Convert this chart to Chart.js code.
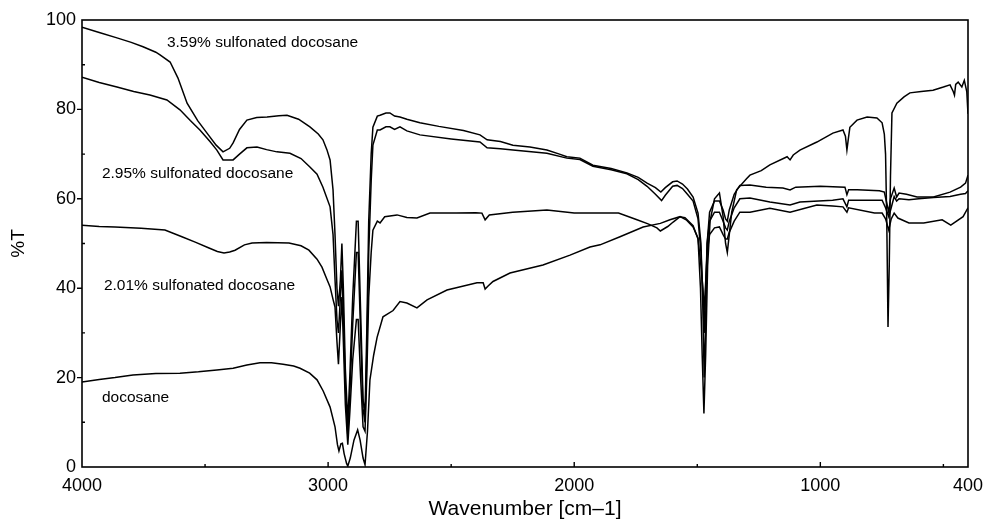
<!DOCTYPE html>
<html><head><meta charset="utf-8">
<script src="https://cdn.jsdelivr.net/npm/chart.js@4.4.1/dist/chart.umd.min.js"></script>
<style>html,body{margin:0;padding:0;background:#fff}#wrap{width:984px;height:522px;position:relative}</style>
</head><body><div id="wrap"><canvas id="c"></canvas></div>
<script>
// ---- data (wavenumber cm-1, %T) ----
const wA = [4000,3930,3858,3800,3752,3700,3683,3642,3610,3573,3530,3492,3455,3427,3400,3386,3360,3330,3290,3248,3200,3167,3120,3074,3040,3021,3005,2992,2980,2972,2964,2958,2950,2944,2938,2930,2920,2912,2900,2885,2878,2868,2858,2850,2843,2835,2825,2818,2800,2789,2765,2749,2730,2708,2680,2627,2550,2450,2383,2354,2300,2249,2180,2111,2060,2030,1977,1924,1850,1786,1740,1704,1670,1648,1630,1600,1582,1560,1540,1517,1497,1485,1477,1472,1467,1460,1450,1430,1410,1395,1385,1378,1370,1350,1327,1286,1220,1152,1123,1100,1000,900,892,885,850,760,740,730,722,715,700,690,680,650,607,540,473,430,410,400];
const tA = [98.4,97.2,96.0,95.0,94.0,92.8,92.2,90.6,87,81.4,77.5,74.7,72,70.5,71.3,72.5,75.5,77.6,78.2,78.3,78.6,78.7,77.8,76.1,74.5,73.2,71,68.7,62,52,40,36,42,50,40,22,10,20,38,55,55,35,15,12,30,55,70,76,78.5,78.7,79.2,79.2,78.5,78.3,77.8,77,76.2,75.3,74.3,73.2,72.8,72,71.6,70.9,70,69.4,69.1,67.5,66.8,65.8,64.8,63.5,62.5,61.5,62.5,63.8,64,63.3,62.2,60.4,56.8,50,35,20,30,50,57,59.5,59.5,57.5,55.5,55,57.5,61,63,63.1,62.6,62.4,62,62.6,62.8,62.6,60.9,62,62,61.8,61.5,59,57,60,62.4,60.4,61.3,61,60.4,60.4,61.5,62.6,63.5,65.3];

const wB = [4000,3930,3858,3790,3724,3655,3602,3560,3521,3480,3452,3427,3386,3360,3330,3289,3250,3208,3155,3110,3074,3045,3021,2992,2980,2972,2964,2958,2950,2944,2938,2930,2920,2912,2900,2885,2878,2868,2858,2850,2843,2835,2825,2818,2800,2789,2765,2749,2730,2708,2680,2627,2500,2383,2354,2300,2249,2111,2030,1977,1924,1850,1786,1740,1704,1670,1645,1630,1600,1582,1560,1540,1517,1497,1485,1477,1472,1467,1460,1450,1430,1410,1395,1385,1378,1370,1350,1327,1286,1205,1123,1083,950,908,892,885,780,749,735,722,712,700,690,680,640,600,540,473,430,410,400];
const tB = [87.2,86.0,85,84,83.2,82.1,79.9,77.5,75.4,72.8,70.9,68.7,68.7,70,71.4,71.6,71,70.5,70.2,69,67.1,65.5,62.6,58.2,52,42,33,30,38,44,34,18,7,16,32,48,48,30,13,10,25,48,64,72,75.4,75.4,76.1,76.1,75.5,76.1,75.2,74.3,73.4,72.7,71.4,71.2,70.9,70.2,69.1,68.8,67.3,66.5,65.6,64.3,62.8,61,59.6,60.8,62.8,63,62.3,61,59.5,55.5,48,38,30,38,50,55,57,57,55,53.5,53,55,58,60,60.2,59.3,58.6,59.3,59.7,60,58.2,59.7,59.7,59.7,58,56,58,60.5,59.5,60,59.8,60,60.3,60.5,61,61.2,61.8];

const wC = [4000,3930,3866,3760,3663,3594,3540,3484,3450,3423,3400,3378,3340,3309,3250,3159,3110,3078,3045,3025,3005,2992,2980,2972,2964,2958,2950,2944,2938,2930,2920,2912,2900,2885,2878,2868,2858,2850,2843,2835,2825,2818,2800,2789,2770,2720,2680,2639,2586,2480,2400,2375,2362,2345,2250,2111,2000,1900,1820,1745,1700,1664,1650,1620,1598,1570,1550,1517,1497,1485,1477,1472,1467,1460,1450,1430,1410,1395,1385,1378,1370,1350,1327,1286,1205,1123,1014,950,908,892,885,780,749,735,722,712,700,685,640,580,505,470,420,400];
const tC = [54.1,53.8,53.7,53.4,53,51.5,50.3,49,48.2,47.9,48.1,48.5,49.7,50.1,50.2,50.1,49.5,48.5,46.5,44.7,42,40.3,37.5,35.8,28,23,32,38,28,14,5,12,24,33,33,20,9,8,20,38,48,53,55,54.6,56,56.4,55.8,55.7,56.8,56.8,56.9,56.8,55.3,56.4,57,57.5,56.8,56.8,56.8,55.3,54.4,53.5,52.8,53.8,54.8,56,55.8,54,51,45,40,35,40,48,52,53.5,53.7,52,51,51,52.5,55,57,57,57.9,57,58.6,58.4,58.2,57,58,56.8,56.8,55.5,53,55.5,56.8,55.7,54.6,54.6,55.3,54.1,56,58];

const wD = [4000,3930,3866,3793,3700,3602,3527,3452,3386,3330,3277,3230,3183,3140,3114,3075,3045,3020,2992,2972,2962,2956,2948,2942,2935,2925,2920,2910,2895,2880,2870,2858,2850,2840,2830,2815,2801,2777,2736,2708,2680,2639,2598,2517,2395,2370,2362,2350,2330,2261,2127,2017,1936,1895,1814,1720,1650,1611,1570,1545,1517,1497,1487,1480,1473,1466,1458,1448,1430,1410,1395,1385,1378,1370,1360,1340,1300,1286,1240,1205,1135,1123,1110,1083,1014,949,908,898,892,886,880,851,810,770,749,740,735,730,725,720,715,709,689,660,636,590,542,500,473,460,455,450,440,425,415,405,400];
const tD = [19,19.6,20,20.6,20.9,21,21.3,21.7,22.1,22.8,23.3,23.3,23,22.6,22.1,21,19.5,17,13.4,9,5,3.6,5.2,5.3,3,0.8,0.2,2,6,8.3,6,2,0.5,8,19.5,25,29,33.6,35,37,36.7,35.6,37.4,39.6,41.2,41.2,39.8,40.5,41.5,43.4,45.2,47.4,49.2,49.7,51.5,53.7,54.5,55.3,56,55.3,53.7,51.2,40,25,12,25,45,55,60,61.3,56,50,48,52,57,62,64.5,65.3,66.3,67.6,69.4,68.7,69.8,70.9,72.7,74.7,75.4,74,70.9,73.5,76,77.6,78.3,78.1,77,74.5,70,55,31.3,45,65,79.2,81.4,82.8,83.7,84,84.3,85,85.5,84,83.2,85.6,86.1,85,86.5,84,79];

const seriesNames = ['3.59% sulfonated docosane','2.95% sulfonated docosane','2.01% sulfonated docosane','docosane'];
// label anchor positions in data units (wavenumber, %T)
const labelW = [3655, 3919, 3911, 3919];
const labelT = [94.9, 65.5, 40.5, 15.4];

const xTickValues = [4000,3500,3000,2500,2000,1500,1000,500,400];
const xLabelValues = [4000,3000,2000,1000,400];
const yTickValues = [0,10,20,30,40,50,60,70,80,90,100];
const yLabelValues = [0,20,40,60,80,100];

const toXY = (w,t)=>w.map((v,i)=>({x:v,y:t[i]}));

const FONT = 'Liberation Sans, Arial, Helvetica, sans-serif';

const decor = {
  id:'decor',
  afterDraw(chart){
    const {ctx, chartArea:a, scales:{x,y}} = chart;
    ctx.save();
    ctx.strokeStyle = '#000';
    ctx.lineWidth = 1.6;
    ctx.strokeRect(a.left, a.top, a.right-a.left, a.bottom-a.top);
    ctx.lineWidth = 1.4;
    ctx.beginPath();
    [3500,3000,2500,2000,1500,1000,500].forEach(v=>{
      const px = x.getPixelForValue(v);
      const len = (v%1000===0)?5:3;
      ctx.moveTo(px, a.bottom); ctx.lineTo(px, a.bottom-len);
    });
    yTickValues.forEach(v=>{
      if(v===0||v===100) return;
      const py = y.getPixelForValue(v);
      if(v%20===0){ ctx.moveTo(a.left, py); ctx.lineTo(a.left-5, py); }
      else { ctx.moveTo(a.left, py); ctx.lineTo(a.left+3, py); }
    });
    ctx.stroke();
    ctx.fillStyle = '#000';
    ctx.font = '15.5px ' + FONT;
    ctx.textBaseline = 'middle';
    ctx.textAlign = 'left';
    seriesNames.forEach((n,i)=>{
      ctx.fillText(n, x.getPixelForValue(labelW[i]), y.getPixelForValue(labelT[i]));
    });
    ctx.restore();
  }
};

const mk = (w,t,label)=>({label, data:toXY(w,t), borderColor:'#000', borderWidth:1.5, pointRadius:0, tension:0, fill:false});

new Chart(document.getElementById('c'), {
  type:'line',
  data:{ datasets:[ mk(wA,tA,seriesNames[0]), mk(wB,tB,seriesNames[1]), mk(wC,tC,seriesNames[2]), mk(wD,tD,seriesNames[3]) ] },
  options:{
    responsive:true, maintainAspectRatio:false, animation:false,
    layout:{ padding:{ top:20, right:16, left:0, bottom:0 } },
    plugins:{ legend:{display:false}, tooltip:{enabled:false} },
    scales:{
      x:{ type:'linear', reverse:true, min:400, max:4000,
          afterBuildTicks:(s)=>{ s.ticks = xTickValues.map(v=>({value:v})); },
          afterFit:(s)=>{ s.height = 55; s.paddingLeft = 0; s.paddingRight = 0; },
          grid:{display:false, drawTicks:false}, border:{display:false},
          ticks:{ autoSkip:false, maxRotation:0, padding:8, color:'#000', font:{family:FONT, size:18},
                  callback:(v)=> xLabelValues.includes(v) ? String(v) : '' },
          title:{ display:true, text:'Wavenumber [cm–1]', color:'#000', font:{family:FONT, size:21}, padding:{top:0,bottom:0} } },
      y:{ type:'linear', min:0, max:100,
          afterBuildTicks:(s)=>{ s.ticks = yTickValues.map(v=>({value:v})); },
          afterFit:(s)=>{ s.width = 82; s.paddingTop = 0; s.paddingBottom = 0; },
          grid:{display:false, drawTicks:false}, border:{display:false},
          ticks:{ autoSkip:false, padding:6, color:'#000', font:{family:FONT, size:18},
                  callback:(v)=> yLabelValues.includes(v) ? String(v) : '' },
          title:{ display:true, text:'%T', color:'#000', font:{family:FONT, size:19}, padding:{top:7,bottom:0} } }
    }
  },
  plugins:[decor]
});
</script></body></html>
